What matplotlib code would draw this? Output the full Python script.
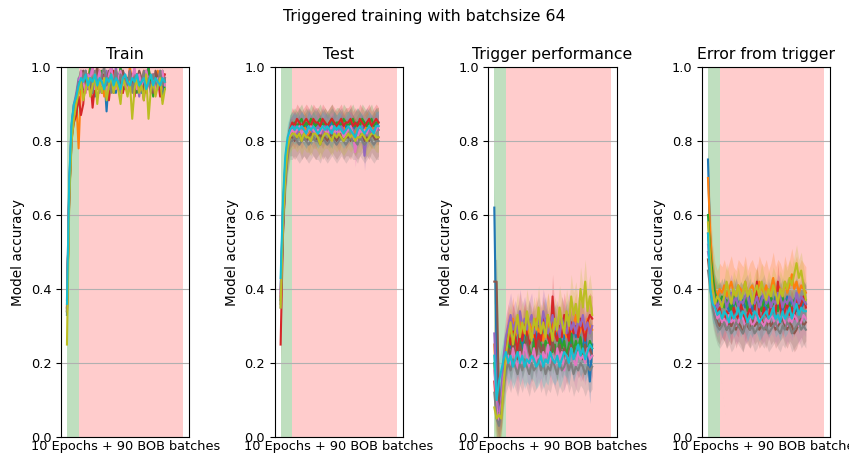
import numpy as np
import matplotlib.pyplot as plt

# accuracy per run, in percent, sampled every 2 steps (10 epochs, then BOB batches)
train = [
    [33, 68, 84, 90, 91, 93, 97, 95, 99, 94, 98, 96, 92, 97, 99, 95, 98, 88, 97, 100, 96, 93, 98, 95, 99, 97, 94, 98, 96, 99, 95, 97, 93, 98, 96, 100, 94, 97, 95, 98, 96, 91, 97],
    [35, 66, 82, 87, 91, 78, 95, 98, 93, 97, 100, 95, 97, 94, 99, 96, 92, 98, 95, 97, 94, 99, 96, 98, 93, 97, 95, 100, 96, 94, 98, 97, 95, 99, 93, 96, 98, 94, 97, 99, 95, 97, 96],
    [34, 67, 83, 89, 92, 96, 99, 94, 98, 95, 100, 97, 93, 98, 96, 99, 94, 97, 95, 98, 93, 99, 96, 100, 95, 97, 94, 98, 96, 99, 93, 97, 95, 98, 94, 100, 96, 92, 98, 95, 97, 99, 94],
    [35, 65, 81, 85, 87, 92, 87, 90, 98, 94, 97, 89, 95, 99, 96, 93, 98, 95, 91, 97, 99, 94, 96, 98, 93, 97, 95, 99, 96, 92, 98, 95, 97, 91, 99, 96, 94, 98, 95, 97, 92, 96, 98],
    [37, 69, 84, 90, 93, 97, 95, 99, 96, 94, 98, 100, 95, 97, 93, 98, 96, 99, 94, 97, 95, 100, 96, 93, 98, 97, 95, 99, 94, 96, 98, 92, 97, 95, 99, 96, 94, 98, 97, 95, 99, 96, 97],
    [34, 66, 80, 87, 90, 94, 97, 99, 95, 98, 96, 93, 97, 100, 95, 98, 94, 96, 99, 97, 93, 98, 95, 96, 99, 94, 97, 95, 98, 93, 96, 99, 97, 94, 98, 95, 96, 93, 99, 97, 95, 98, 96],
    [35, 67, 83, 88, 91, 95, 99, 96, 93, 98, 97, 100, 94, 96, 99, 95, 97, 93, 98, 100, 96, 94, 97, 99, 95, 98, 93, 96, 97, 100, 94, 98, 95, 97, 99, 96, 93, 98, 94, 97, 96, 99, 95],
    [34, 66, 82, 88, 92, 96, 94, 98, 99, 95, 97, 93, 99, 96, 94, 98, 100, 95, 97, 93, 96, 99, 94, 98, 96, 97, 95, 99, 93, 97, 98, 94, 96, 99, 95, 97, 93, 98, 96, 94, 99, 95, 97],
    [25, 64, 80, 86, 90, 93, 96, 91, 94, 97, 92, 95, 98, 90, 96, 93, 97, 91, 95, 98, 93, 96, 94, 90, 97, 95, 92, 96, 86, 94, 97, 93, 95, 91, 98, 86, 94, 96, 92, 95, 97, 90, 94],
    [36, 70, 85, 90, 92, 95, 97, 96, 98, 95, 97, 96, 98, 95, 97, 96, 94, 97, 96, 98, 95, 97, 96, 94, 97, 98, 96, 95, 97, 96, 98, 95, 96, 97, 94, 96, 98, 95, 97, 96, 95, 97, 96],
]

test = [
    [40, 62, 74, 80, 82, 83, 84, 83, 85, 84, 83, 84, 85, 83, 84, 85, 84, 83, 85, 84, 83, 84, 85, 84, 83, 84, 85, 83, 84, 84, 85, 83, 84, 85, 84, 83, 84, 85, 84, 83, 84, 85, 84],
    [38, 60, 72, 79, 82, 83, 82, 84, 83, 82, 84, 83, 81, 83, 84, 82, 83, 84, 82, 83, 84, 83, 82, 84, 83, 81, 83, 84, 82, 83, 84, 83, 82, 83, 84, 82, 83, 84, 83, 82, 84, 83, 83],
    [37, 58, 71, 78, 83, 84, 85, 84, 85, 86, 84, 85, 84, 86, 85, 84, 85, 86, 84, 85, 84, 85, 86, 84, 85, 85, 84, 86, 85, 84, 85, 86, 84, 85, 84, 86, 85, 84, 85, 86, 84, 85, 85],
    [25, 55, 70, 78, 83, 85, 84, 86, 85, 84, 85, 86, 85, 84, 86, 85, 85, 84, 86, 85, 84, 85, 86, 85, 84, 85, 86, 84, 85, 85, 86, 84, 85, 84, 86, 85, 84, 85, 86, 84, 85, 86, 85],
    [39, 61, 73, 79, 82, 83, 84, 82, 83, 84, 83, 82, 84, 83, 82, 83, 84, 83, 82, 84, 83, 82, 83, 84, 82, 83, 84, 83, 82, 83, 84, 83, 80, 82, 83, 84, 76, 82, 83, 82, 83, 84, 83],
    [36, 57, 70, 77, 81, 81, 80, 81, 82, 80, 81, 80, 81, 82, 81, 80, 81, 82, 80, 81, 80, 81, 82, 81, 80, 81, 82, 80, 81, 81, 80, 82, 81, 80, 81, 82, 80, 81, 80, 82, 81, 80, 81],
    [38, 60, 72, 79, 82, 83, 82, 83, 84, 82, 83, 82, 83, 84, 83, 82, 83, 82, 84, 83, 82, 83, 84, 82, 83, 82, 83, 81, 82, 83, 84, 82, 77, 81, 83, 82, 83, 82, 84, 83, 82, 83, 84],
    [35, 56, 69, 76, 80, 80, 81, 80, 79, 80, 81, 80, 79, 80, 81, 80, 80, 79, 81, 80, 79, 80, 81, 80, 79, 80, 81, 80, 79, 80, 81, 80, 80, 79, 81, 80, 79, 80, 81, 80, 79, 80, 80],
    [35, 58, 70, 78, 81, 82, 82, 81, 82, 80, 82, 81, 81, 80, 82, 82, 81, 79, 81, 82, 82, 81, 80, 82, 81, 82, 81, 80, 81, 82, 81, 82, 80, 81, 81, 82, 81, 80, 81, 82, 82, 81, 81],
    [43, 64, 76, 81, 83, 84, 83, 84, 83, 84, 83, 82, 84, 83, 84, 83, 82, 83, 84, 83, 84, 83, 82, 84, 83, 84, 83, 82, 83, 84, 83, 82, 81, 83, 84, 83, 82, 83, 84, 83, 82, 84, 84],
]

trigger = [
    [62, 20, 8, 12, 18, 22, 26, 24, 28, 25, 30, 27, 24, 29, 26, 31, 28, 25, 27, 30, 26, 29, 32, 27, 25, 28, 30, 26, 29, 24, 27, 31, 28, 25, 30, 27, 29, 26, 24, 28, 22, 15, 25],
    [25, 10, 5, 9, 20, 26, 30, 28, 32, 27, 29, 33, 28, 30, 26, 31, 29, 27, 32, 28, 30, 26, 29, 33, 27, 31, 28, 30, 26, 32, 29, 27, 31, 28, 30, 33, 27, 29, 31, 28, 32, 30, 29],
    [20, 8, 6, 10, 18, 22, 25, 21, 24, 27, 23, 26, 22, 25, 28, 24, 21, 26, 23, 27, 25, 22, 26, 24, 28, 23, 25, 21, 27, 24, 26, 22, 25, 28, 23, 26, 24, 27, 22, 25, 23, 26, 24],
    [15, 6, 4, 8, 17, 24, 28, 25, 30, 27, 23, 29, 26, 31, 28, 25, 27, 30, 24, 28, 26, 32, 29, 27, 25, 38, 28, 26, 30, 27, 33, 29, 26, 31, 28, 30, 27, 32, 29, 26, 31, 33, 32],
    [28, 12, 7, 11, 22, 27, 30, 33, 29, 31, 28, 34, 30, 32, 29, 31, 33, 28, 30, 32, 29, 34, 31, 28, 30, 33, 29, 31, 27, 32, 30, 28, 33, 29, 31, 28, 32, 30, 33, 29, 31, 28, 30],
    [42, 42, 10, 8, 15, 21, 24, 22, 26, 23, 21, 25, 22, 24, 27, 23, 21, 24, 22, 26, 23, 25, 21, 24, 22, 26, 23, 21, 25, 22, 24, 20, 23, 25, 21, 24, 22, 23, 21, 25, 22, 24, 22],
    [18, 8, 4, 9, 16, 20, 22, 19, 24, 21, 18, 23, 20, 25, 22, 19, 21, 24, 20, 22, 19, 23, 21, 25, 20, 22, 19, 24, 21, 23, 18, 22, 20, 24, 21, 19, 23, 21, 22, 20, 24, 21, 22],
    [12, 5, 3, 7, 14, 18, 20, 18, 21, 19, 17, 20, 18, 21, 19, 17, 20, 18, 19, 21, 18, 20, 17, 19, 18, 21, 19, 17, 20, 18, 19, 21, 18, 20, 17, 19, 18, 20, 19, 17, 19, 18, 19],
    [8, 5, 6, 5, 14, 22, 27, 31, 25, 29, 33, 27, 31, 28, 34, 30, 26, 32, 29, 35, 28, 31, 27, 33, 30, 26, 32, 29, 35, 31, 28, 34, 30, 38, 33, 36, 31, 40, 35, 42, 34, 38, 33],
    [22, 10, 15, 18, 21, 23, 20, 22, 19, 21, 23, 20, 22, 19, 21, 20, 22, 21, 19, 20, 22, 19, 21, 20, 23, 21, 20, 22, 19, 21, 23, 22, 20, 24, 21, 23, 25, 22, 24, 21, 23, 25, 24],
]

error = [
    [75, 52, 42, 38, 36, 37, 35, 38, 36, 34, 37, 35, 38, 36, 34, 37, 35, 36, 38, 34, 36, 37, 35, 38, 36, 34, 37, 35, 36, 38, 35, 37, 34, 36, 38, 35, 37, 36, 34, 37, 35, 36, 37],
    [70, 55, 45, 40, 38, 40, 39, 41, 38, 40, 42, 39, 38, 41, 40, 39, 42, 38, 40, 41, 39, 38, 42, 40, 39, 41, 38, 40, 43, 39, 41, 40, 38, 42, 39, 41, 44, 40, 42, 39, 41, 40, 39],
    [60, 50, 44, 39, 37, 36, 38, 35, 37, 36, 34, 38, 36, 35, 37, 36, 38, 34, 36, 37, 35, 38, 36, 34, 37, 36, 35, 38, 36, 37, 34, 36, 38, 35, 37, 36, 34, 37, 38, 35, 36, 37, 36],
    [55, 48, 40, 36, 33, 35, 32, 31, 34, 33, 30, 35, 33, 32, 36, 34, 31, 33, 35, 32, 34, 42, 33, 31, 35, 33, 32, 36, 34, 33, 42, 35, 32, 34, 36, 33, 35, 32, 37, 34, 36, 38, 35],
    [50, 46, 40, 37, 35, 37, 36, 38, 35, 37, 39, 36, 38, 35, 37, 36, 38, 39, 35, 37, 36, 38, 35, 37, 39, 36, 38, 35, 37, 36, 39, 38, 35, 37, 36, 38, 37, 35, 39, 36, 38, 37, 36],
    [48, 42, 36, 33, 31, 30, 32, 31, 29, 31, 30, 32, 29, 31, 30, 28, 31, 30, 29, 32, 30, 31, 29, 30, 31, 29, 32, 30, 31, 29, 30, 31, 32, 30, 29, 31, 30, 28, 29, 31, 32, 30, 31],
    [52, 45, 38, 34, 32, 33, 31, 32, 30, 33, 31, 32, 30, 31, 33, 32, 30, 31, 32, 30, 31, 33, 32, 31, 30, 32, 31, 33, 32, 30, 31, 32, 33, 31, 30, 32, 31, 33, 32, 30, 31, 33, 32],
    [45, 40, 35, 32, 30, 29, 30, 31, 29, 30, 28, 29, 31, 30, 29, 28, 30, 31, 29, 30, 28, 29, 31, 30, 29, 30, 28, 29, 30, 31, 29, 28, 30, 29, 31, 30, 28, 29, 30, 31, 29, 30, 29],
    [58, 48, 40, 36, 38, 37, 35, 38, 42, 39, 36, 40, 38, 41, 37, 39, 42, 38, 40, 36, 39, 41, 38, 42, 39, 37, 40, 38, 41, 39, 36, 40, 38, 42, 40, 43, 41, 44, 47, 43, 45, 41, 37],
    [55, 40, 36, 35, 33, 34, 32, 34, 33, 31, 34, 32, 33, 35, 32, 34, 33, 31, 33, 32, 34, 33, 31, 32, 33, 34, 32, 33, 35, 32, 33, 31, 34, 32, 33, 35, 32, 34, 36, 33, 35, 34, 34],
]

# std over the evaluation set, percent (none for train accuracy)
test_std = [4, 4, 4, 4, 4, 5, 4, 5, 4, 4]
trigger_std = [6, 6, 6, 6, 6, 6, 6, 6, 6, 6]
error_std = [5, 7, 5, 5, 5, 5, 5, 5, 5, 5]

panels = [
    ('Train', train, None),
    ('Test', test, test_std),
    ('Trigger performance', trigger, trigger_std),
    ('Error from trigger', error, error_std),
]

n_epochs = 10
n_bob = 90

fig, axes = plt.subplots(1, 4, figsize=(8.49, 4.62), dpi=100)
fig.subplots_adjust(left=0.072, right=0.978, bottom=0.054, top=0.855, wspace=0.667)
fig.suptitle('Triggered training with batchsize 64', fontsize=11.3, y=0.98)

for ax, (title, runs, stds) in zip(axes, panels):
    ax.axvspan(0, n_epochs, color='g', alpha=0.25, lw=0)
    ax.axvspan(n_epochs, n_epochs + n_bob, color='r', alpha=0.2, lw=0)
    if stds is not None:
        for i, (run, s) in enumerate(zip(runs, stds)):
            y = np.array(run) / 100
            x = 2 * np.arange(len(y))
            ax.fill_between(x, y - s / 100, y + s / 100, color='C%d' % i, alpha=0.22, lw=0)
    for i, run in enumerate(runs):
        y = np.array(run) / 100
        x = 2 * np.arange(len(y))
        ax.plot(x, y, color='C%d' % i, lw=1.5)
    ax.set_ylim(0, 1)
    ax.set_xticks([])
    ax.set_yticks(np.arange(0, 1.01, 0.2))
    ax.tick_params(labelsize=9.3)
    ax.grid(axis='y', color='#b0b0b0')
    ax.set_title(title, fontsize=11.3)
    ax.set_ylabel('Model accuracy', fontsize=9.8)
    ax.set_xlabel('10 Epochs + 90 BOB batches', fontsize=9.3, labelpad=2)

plt.savefig('out.png')
